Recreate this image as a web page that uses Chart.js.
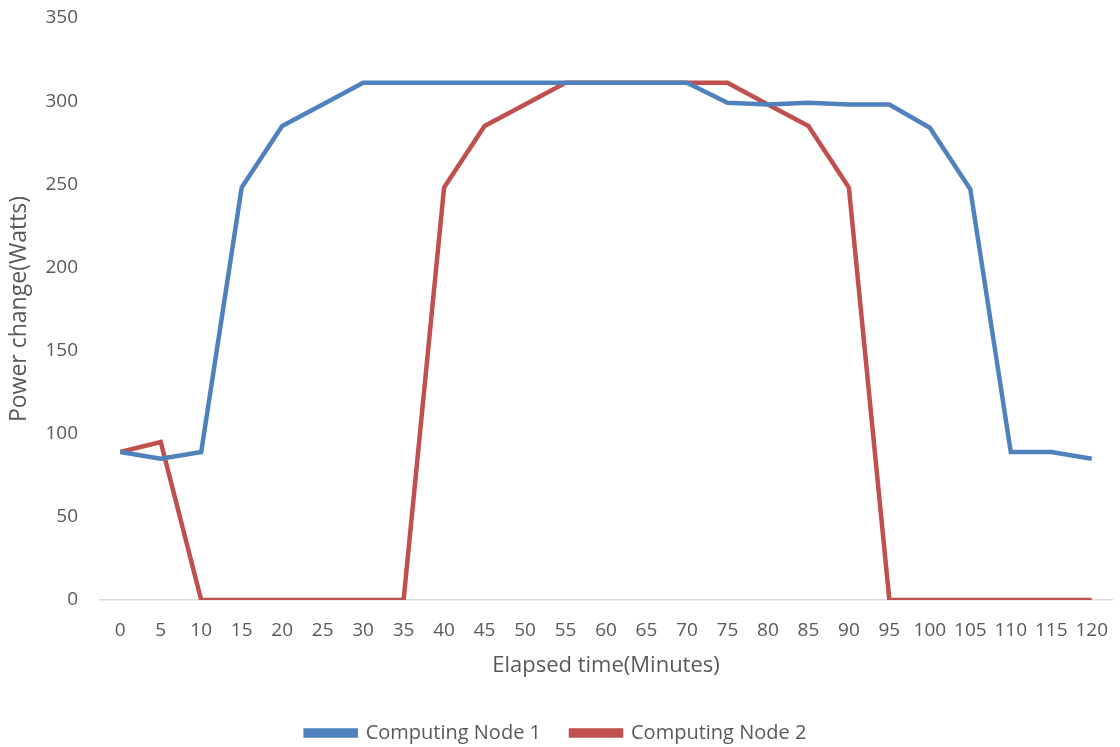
<!DOCTYPE html>
<html>
<head>
<meta charset="utf-8">
<script src="https://cdn.jsdelivr.net/npm/chart.js@4/dist/chart.umd.min.js"></script>
<style>
  html, body { margin: 0; padding: 0; background: #fff; }
  #wrap { width: 1120px; height: 747px; }
</style>
</head>
<body>
<div id="wrap"><canvas id="myChart"></canvas></div>
<script>
const MINUTES = ['0', '5', '10', '15', '20', '25', '30', '35', '40', '45', '50', '55', '60',
    '65', '70', '75', '80', '85', '90', '95', '100', '105', '110', '115', '120'];

const NODE_1 = [89, 85, 89, 248, 285, 298, 311, 311, 311, 311, 311, 311, 311,
    311, 311, 299, 298, 299, 298, 298, 284, 247, 89, 89, 85];

const NODE_2 = [89, 95, 0, 0, 0, 0, 0, 0, 248, 285, 298, 311, 311,
    311, 311, 311, 298, 285, 248, 0, 0, 0, 0, 0, 0];

const TEXT_COLOR = '#595959';
const FONT = "'Open Sans', 'Liberation Sans', sans-serif";

Chart.defaults.font.family = FONT;
Chart.defaults.color = TEXT_COLOR;

// legend sits lower than chart.js would put it, so shrink its box
const legendHeightPlugin = {
    id: 'legendHeight',
    beforeInit(chart) {
        const fit = chart.legend.fit;
        chart.legend.fit = function () {
            fit.bind(chart.legend)();
            this.height = 54;
        };
    }
};

const ctx = document.getElementById('myChart');

new Chart(ctx, {
    type: 'line',
    data: {
        labels: MINUTES,
        datasets: [{
            label: 'Computing Node 1',
            data: NODE_1,
            borderColor: '#4f81bd',
            backgroundColor: '#4f81bd',
            borderWidth: 4.5,
            pointRadius: 0,
            tension: 0
        }, {
            label: 'Computing Node 2',
            data: NODE_2,
            borderColor: '#c0504d',
            backgroundColor: '#c0504d',
            borderWidth: 4.5,
            pointRadius: 0,
            tension: 0
        }]
    },
    options: {
        responsive: true,
        maintainAspectRatio: false,
        animation: false,
        layout: {
            autoPadding: false,
            padding: { top: 18, right: 8, left: 0, bottom: 0 }
        },
        plugins: {
            tooltip: { enabled: false },
            legend: {
                position: 'bottom',
                labels: {
                    boxWidth: 50,
                    boxHeight: 5,
                    padding: 30,
                    font: { size: 20 },
                    color: TEXT_COLOR
                }
            }
        },
        scales: {
            x: {
                offset: true,
                afterFit: scale => {
                    scale.height = 93;
                    scale.paddingLeft = 0;
                    scale.paddingRight = 0;
                },
                grid: { display: false, drawTicks: false },
                border: { color: '#d9d9d9', width: 1.5 },
                ticks: { font: { size: 19 }, padding: 19, maxRotation: 0, autoSkip: false },
                title: {
                    display: true,
                    text: 'Elapsed time(Minutes)',
                    font: { size: 22 },
                    padding: { top: 10, bottom: 14 }
                }
            },
            y: {
                min: 0,
                max: 350,
                afterFit: scale => {
                    scale.width = 100;
                    scale.paddingTop = 0;
                    scale.paddingBottom = 0;
                },
                grid: { display: false, drawTicks: false },
                border: { display: false },
                ticks: { stepSize: 50, font: { size: 19 }, padding: 22 },
                title: {
                    display: true,
                    text: 'Power change(Watts)',
                    font: { size: 23 },
                    padding: { top: 6, bottom: 0 }
                }
            }
        }
    },
    plugins: [legendHeightPlugin]
});
</script>
</body>
</html>
